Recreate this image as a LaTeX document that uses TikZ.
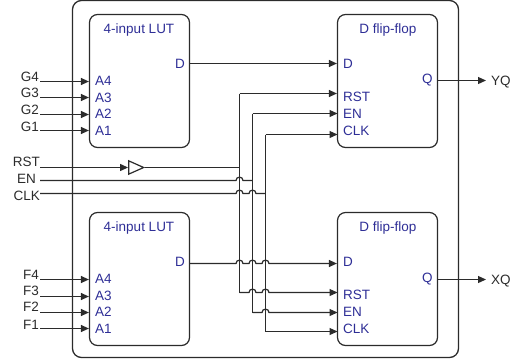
\documentclass[tikz,border=0pt]{standalone}
\usepackage{fontspec}
\setmainfont{Liberation Sans}
\usepackage{xcolor}
\usetikzlibrary{arrows.meta,shapes.geometric}

\definecolor{wirecol}{HTML}{2B2B2B}
\definecolor{portcol}{HTML}{2E2E96}

\tikzset{
  block/.style={draw=wirecol, line width=1.2pt, rounded corners=8pt, minimum width=100pt, minimum height=133pt, inner sep=0pt},
  outerbox/.style={draw=wirecol, line width=1.3pt, rounded corners=9pt, minimum width=386pt, minimum height=357pt, inner sep=0pt},
  wire/.style={draw=wirecol, line width=1.2pt},
  arrowwire/.style={wire, -{Triangle[length=8pt,width=7pt]}},
  port/.style={text=portcol, font=\fontsize{13.5}{15}\selectfont, inner sep=0pt, anchor=west},
  blocktitle/.style={text=portcol, font=\fontsize{13.5}{15}\selectfont, inner sep=0pt},
  signal/.style={text=wirecol, font=\fontsize{13.5}{15}\selectfont, inner sep=0pt, anchor=east},
  outsignal/.style={text=wirecol, font=\fontsize{13.5}{15}\selectfont, inner sep=0pt, anchor=west},
}

% hop of a horizontal wire over a vertical one
\newcommand{\hop}[2]{-- ({#1-3.5},#2) .. controls ({#1-3.5},{#2-4.5}) and ({#1+3.5},{#2-4.5}) .. ({#1+3.5},#2)}

\begin{document}
\begin{tikzpicture}[x=1pt, y=-1pt]
  \useasboundingbox (0,0) rectangle (518,359);

  \node[outerbox] (clb) at (265.5,179) {};

  % blocks
  \node[block] (lutg) at (139.5,81) {};
  \node[block] (lutf) at (139.5,279) {};
  \node[block] (ffy) at (387.5,81) {};
  \node[block] (ffx) at (387.5,279) {};

  \node[blocktitle] (lutgt) at (139,30) {4-input LUT};
  \node[blocktitle] (lutft) at (139,228) {4-input LUT};
  \node[blocktitle] (ffyt) at (388,30) {D flip-flop};
  \node[blocktitle] (ffxt) at (388,228) {D flip-flop};

  % ports of the upper LUT
  \node[port] (ga4) at (95,81) {A4};
  \node[port] (ga3) at (95,98) {A3};
  \node[port] (ga2) at (95,114) {A2};
  \node[port] (ga1) at (95,131) {A1};
  \node[port] (gd) at (175,64) {D};

  % ports of the lower LUT
  \node[port] (fa4) at (95,279) {A4};
  \node[port] (fa3) at (95,296) {A3};
  \node[port] (fa2) at (95,312) {A2};
  \node[port] (fa1) at (95,329) {A1};
  \node[port] (fd) at (175,262) {D};

  % ports of the flip-flops
  \node[port] (yd) at (343,64) {D};
  \node[port] (yrst) at (343,97) {RST};
  \node[port] (yen) at (343,114) {EN};
  \node[port] (yclk) at (343,131) {CLK};
  \node[port] (yq) at (422,80) {Q};

  \node[port] (xd) at (343,262) {D};
  \node[port] (xrst) at (343,295) {RST};
  \node[port] (xen) at (343,312) {EN};
  \node[port] (xclk) at (343,329) {CLK};
  \node[port] (xq) at (422,279) {Q};

  % inputs
  \node[signal] (g4) at (39,77) {G4};
  \node[signal] (g3) at (39,93) {G3};
  \node[signal] (g2) at (39,110) {G2};
  \node[signal] (g1) at (39,127) {G1};
  \node[signal] (f4) at (39,275) {F4};
  \node[signal] (f3) at (39,291) {F3};
  \node[signal] (f2) at (39,307) {F2};
  \node[signal] (f1) at (39,325) {F1};
  \node[signal] (rst) at (40,162) {RST};
  \node[signal] (en) at (36,179) {EN};
  \node[signal] (clk) at (40,196) {CLK};

  \node[outsignal] (yqo) at (491,82) {YQ};
  \node[outsignal] (xqo) at (491,281) {XQ};

  \coordinate (g4s) at (40,81.5);
  \coordinate (g3s) at (40,97.5);
  \coordinate (g2s) at (40,114.5);
  \coordinate (g1s) at (40,130.5);
  \coordinate (f4s) at (40,279.5);
  \coordinate (f3s) at (40,296.5);
  \coordinate (f2s) at (40,312.5);
  \coordinate (f1s) at (40,328.5);

  \foreach \sig in {g4,g3,g2,g1}
    \draw[arrowwire] (\sig s) -- (\sig s -| lutg.west);
  \foreach \sig in {f4,f3,f2,f1}
    \draw[arrowwire] (\sig s) -- (\sig s -| lutf.west);

  % buffer on the reset line
  \node[draw=wirecol, fill=white, line width=1.2pt, isosceles triangle, isosceles triangle apex angle=48, minimum height=15pt, minimum width=13pt, inner sep=0pt] (buf) at (133,167.5) {};
  \coordinate (rsts) at (40,167.5);
  \coordinate (rstj) at (239.5,167.5);
  \draw[arrowwire] (rsts) -- (buf.west);
  \draw[wire] (buf.apex) -- (rstj);

  % reset, enable and clock
  \draw[arrowwire] (239.5,93.5) -- (ffy.west |- 0,93.5);
  \draw[wire] (239.5,93.5) -- (239.5,292.5);
  \draw[arrowwire] (239.5,292.5) \hop{252.5}{292.5} \hop{265.5}{292.5} -- (337.5,292.5);

  \draw[wire] (40,180.5) \hop{239.5}{180.5} -- (252.5,180.5);
  \draw[arrowwire] (252.5,113.5) -- (337.5,113.5);
  \draw[wire] (252.5,113.5) -- (252.5,312.5);
  \draw[arrowwire] (252.5,312.5) \hop{265.5}{312.5} -- (337.5,312.5);

  \draw[wire] (40,193.5) \hop{239.5}{193.5} \hop{252.5}{193.5} -- (265.5,193.5);
  \draw[arrowwire] (265.5,134.5) -- (337.5,134.5);
  \draw[wire] (265.5,134.5) -- (265.5,331.5);
  \draw[arrowwire] (265.5,331.5) -- (337.5,331.5);

  % data
  \draw[arrowwire] (lutg.east |- 0,63.5) -- (ffy.west |- 0,63.5);
  \draw[arrowwire] (lutf.east |- 0,263.5) \hop{239.5}{263.5} \hop{252.5}{263.5} \hop{265.5}{263.5} -- (ffx.west |- 0,263.5);
  \draw[arrowwire] (ffy.east |- 0,80.5) -- (486,80.5);
  \draw[arrowwire] (ffx.east |- 0,279.5) -- (486,279.5);
\end{tikzpicture}
\end{document}
